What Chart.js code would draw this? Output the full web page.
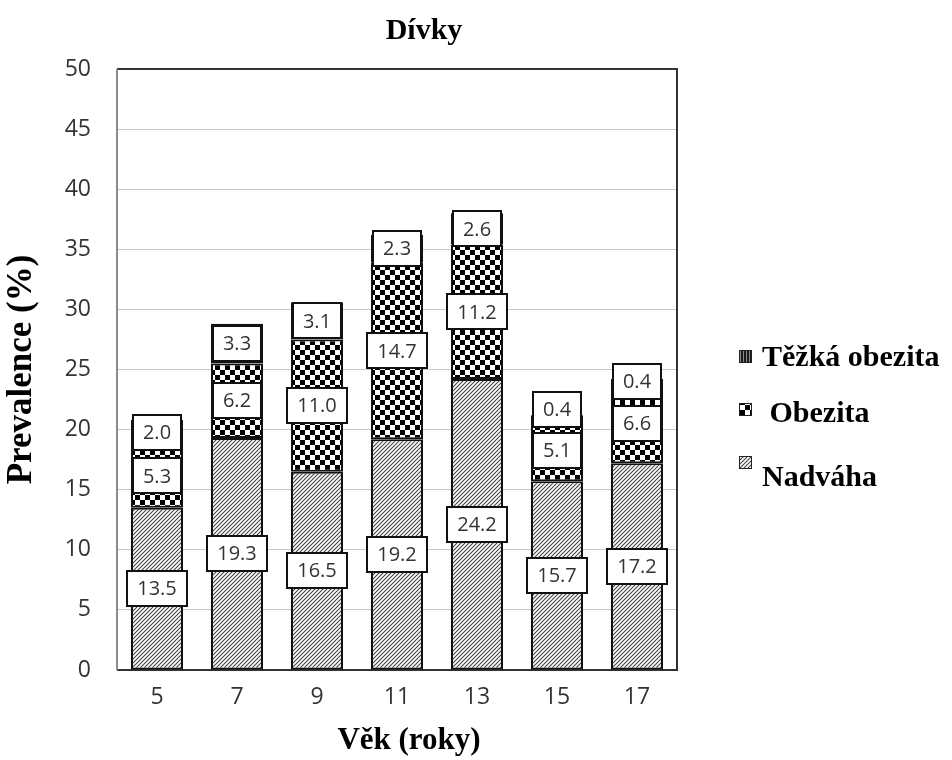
<!DOCTYPE html>
<html lang="cs">
<head>
<meta charset="utf-8">
<title>Dívky – prevalence nadváhy a obezity</title>
<script src="https://cdn.jsdelivr.net/npm/chart.js@4.4.1/dist/chart.umd.min.js"></script>
<style>
  html, body { margin: 0; padding: 0; background: #ffffff; }
  #wrap { width: 952px; height: 760px; position: relative; }
</style>
</head>
<body>
<div id="wrap"><canvas id="chart" width="952" height="760"></canvas></div>
<script>
// Věkové kategorie (roky)
const ages = ['5', '7', '9', '11', '13', '15', '17'];

// Prevalence (%) podle kategorie
const nadvaha       = [13.5, 19.3, 16.5, 19.2, 24.2, 15.7, 17.2];
const obezita       = [5.3, 6.2, 11.0, 14.7, 11.2, 5.1, 6.6];
const tezkaObezita  = [2.0, 3.3, 3.1, 2.3, 2.6, 0.4, 0.4];

const seriesNames = ['Nadváha', 'Obezita', 'Těžká obezita'];
const yTicks = [0, 5, 10, 15, 20, 25, 30, 35, 40, 45, 50];

const canvas = document.getElementById('chart');
const ctx = canvas.getContext('2d');

// --- fill patterns -------------------------------------------------------
function makeTile(size, draw) {
  const c = document.createElement('canvas');
  c.width = size; c.height = size;
  const t = c.getContext('2d');
  draw(t, size);
  return c;
}
// diagonal hatch ("////")
const hatchTile = makeTile(4, (t, s) => {
  t.fillStyle = '#ffffff'; t.fillRect(0, 0, s, s);
  t.strokeStyle = '#444444'; t.lineWidth = 1.1;
  t.beginPath();
  t.moveTo(-1, s + 1); t.lineTo(s + 1, -1);
  t.moveTo(-1, 1); t.lineTo(1, -1);
  t.moveTo(s - 1, s + 1); t.lineTo(s + 1, s - 1);
  t.stroke();
});
// checkerboard
const checkTile = makeTile(10, (t, s) => {
  t.fillStyle = '#ffffff'; t.fillRect(0, 0, s, s);
  t.fillStyle = '#000000';
  t.fillRect(0, 0, 5, 5);
  t.fillRect(5, 5, 5, 5);
});
// dense dark vertical stripes
const darkTile = makeTile(3, (t, s) => {
  t.fillStyle = '#1a1a1a'; t.fillRect(0, 0, s, s);
  t.fillStyle = '#8a8a8a'; t.fillRect(2, 0, 1, s);
});
const hatchFill = ctx.createPattern(hatchTile, 'repeat');
const checkFill = ctx.createPattern(checkTile, 'repeat');
const darkFill  = ctx.createPattern(darkTile, 'repeat');

// --- value boxes on each segment ----------------------------------------
const valueBoxes = {
  id: 'valueBoxes',
  afterDatasetsDraw(chart) {
    const c = chart.ctx;
    const boxH = 35, pad = 10, gap = 6;
    c.save();
    c.font = '20px "Open Sans", sans-serif';
    c.textAlign = 'center';
    c.textBaseline = 'middle';
    const n = chart.data.labels.length;
    for (let i = 0; i < n; i++) {
      let prevTop = null;
      chart.data.datasets.forEach((ds, di) => {
        const el = chart.getDatasetMeta(di).data[i];
        const val = ds.data[i];
        const txt = val.toFixed(1);
        let cy = (el.y + el.base) / 2;
        if (prevTop !== null && cy + boxH / 2 > prevTop - gap) {
          cy = prevTop - gap - boxH / 2;
        }
        const w = Math.max(c.measureText(txt).width + 2 * pad, 48);
        const x0 = Math.round(el.x - w / 2), y0 = Math.round(cy - boxH / 2);
        c.fillStyle = '#ffffff';
        c.fillRect(x0, y0, Math.round(w), boxH);
        c.lineWidth = 2;
        c.strokeStyle = '#111111';
        c.strokeRect(x0, y0, Math.round(w), boxH);
        c.fillStyle = '#333333';
        c.fillText(txt, el.x, cy + 1);
        prevTop = y0;
      });
    }
    c.restore();
  }
};

// --- plot frame, title, x-axis title, legend -----------------------------
const decorations = {
  id: 'decorations',
  beforeDatasetsDraw(chart) {
    const { ctx: c, chartArea: a } = chart;
    c.save();
    c.strokeStyle = '#333333';
    c.lineWidth = 2;
    c.beginPath();
    c.moveTo(a.left, a.top); c.lineTo(a.right, a.top);
    c.lineTo(a.right, a.bottom); c.lineTo(a.left, a.bottom);
    c.stroke();
    c.strokeStyle = '#8c8c8c';
    c.beginPath();
    c.moveTo(a.left, a.top); c.lineTo(a.left, a.bottom);
    c.stroke();
    c.restore();
  },
  afterDraw(chart) {
    const c = chart.ctx;
    c.save();
    c.fillStyle = '#000000';
    c.textBaseline = 'middle';
    c.textAlign = 'center';
    c.font = 'bold 30px "Liberation Serif", "Times New Roman", serif';
    c.fillText('Dívky', 424, 31);
    c.font = 'bold 31px "Liberation Serif", "Times New Roman", serif';
    c.fillText('Věk (roky)', 409, 741);

    // legend
    const items = [
      { label: 'Těžká obezita', fill: darkFill,  my: 357, ty: 358, tx: 762 },
      { label: ' Obezita',      fill: checkFill, my: 410, ty: 414, tx: 762 },
      { label: 'Nadváha',       fill: hatchFill, my: 463, ty: 478, tx: 762 }
    ];
    c.textAlign = 'left';
    c.font = 'bold 30px "Liberation Serif", "Times New Roman", serif';
    items.forEach(it => {
      c.fillStyle = it.fill;
      c.fillRect(739, it.my - 7, 13, 13);
      c.strokeStyle = '#222222';
      c.lineWidth = 1;
      c.strokeRect(739.5, it.my - 6.5, 12, 12);
      c.fillStyle = '#000000';
      c.fillText(it.label, it.tx, it.ty);
    });
    c.restore();
  }
};

const fills = [hatchFill, checkFill, darkFill];
const seriesData = [nadvaha, obezita, tezkaObezita];

new Chart(ctx, {
  type: 'bar',
  data: {
    labels: ages,
    datasets: seriesData.map((d, k) => ({
      label: seriesNames[k],
      data: d,
      backgroundColor: fills[k],
      borderColor: '#111111',
      borderWidth: 2,
      borderSkipped: false,
      categoryPercentage: 1.0,
      barPercentage: 0.65
    }))
  },
  options: {
    responsive: false,
    animation: false,
    layout: { padding: { top: 69, right: 275, bottom: 0, left: 0 } },
    plugins: {
      legend: { display: false },
      title: { display: false },
      tooltip: { enabled: false }
    },
    scales: {
      x: {
        stacked: true,
        grid: { display: false, drawTicks: false },
        border: { display: false },
        ticks: {
          padding: 14,
          color: '#333333',
          font: { family: '"Open Sans", sans-serif', size: 23 }
        },
        afterFit(scale) { scale.height = 90; }
      },
      y: {
        stacked: true,
        min: 0,
        max: 50,
        afterBuildTicks(scale) { scale.ticks = yTicks.map(v => ({ value: v })); },
        grid: { color: '#c8c8c8', lineWidth: 1, drawTicks: false },
        border: { display: false },
        ticks: {
          padding: 26,
          color: '#333333',
          font: { family: '"Open Sans", sans-serif', size: 23 }
        },
        title: {
          display: true,
          text: 'Prevalence (%)',
          color: '#000000',
          padding: { top: 1, bottom: 0 },
          font: { family: '"Liberation Serif", "Times New Roman", serif', size: 35, weight: 'bold' }
        },
        afterFit(scale) { scale.width = 117; }
      }
    }
  },
  plugins: [valueBoxes, decorations]
});
</script>
</body>
</html>
